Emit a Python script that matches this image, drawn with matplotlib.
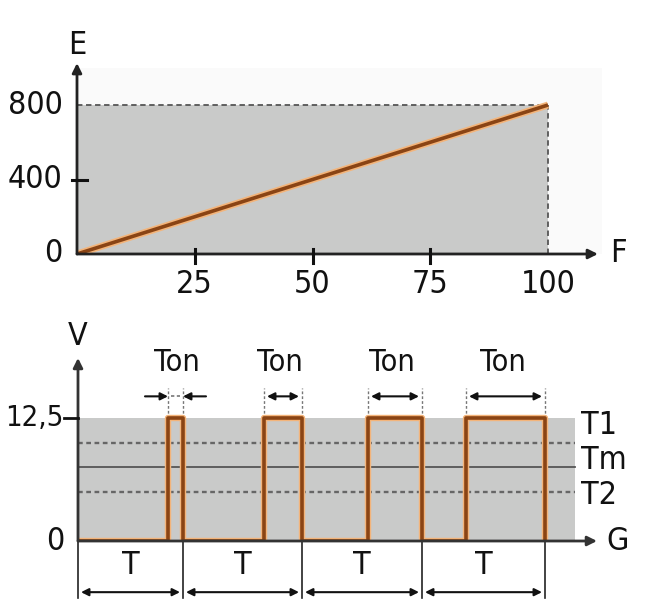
import matplotlib
matplotlib.use("Agg")
import matplotlib.pyplot as plt
from matplotlib.patches import Rectangle

# ---------------- data ----------------
# top chart: E as a linear function of F
F_values = [0, 100]
E_values = [0, 800]
top_xticks = [25, 50, 75, 100]
top_yticks = [0, 400, 800]
top_ytick_labels = ["0", "400", "800"]

# bottom chart: PWM pulses (G in arbitrary time units)
period_edges = [0, 105, 224, 344, 467]
ton_lengths = [15, 38, 54, 79]
V_high = 12.5
T1_level = 10.0
Tm_level = 7.5
T2_level = 5.0
bottom_ytick_labels = ["0", "12,5"]
level_labels = ["T1", "Tm", "T2"]

W, H = 659, 614
fig = plt.figure(figsize=(W / 100, H / 100), dpi=100)
plt.rcParams["font.family"] = ["DejaVu Sans"]
plt.rcParams["font.stretch"] = "condensed"
TXT = dict(color="#111111", fontstretch="condensed")


def px_axes(left, top, right, bottom):
    return fig.add_axes([left / W, 1 - bottom / H, (right - left) / W, (bottom - top) / H])


HALO = "#f3b47a"
CORE = "#8a4414"
GRAY = "#c9cac9"
AX = "#222222"

# ---------------- top chart ----------------
# 77 px -> F=0, 4.71 px per unit ; 254 px -> E=0, 0.1863 px per unit
ax1 = px_axes(77, 44, 640, 254)
ax1.set_xlim(0, (640 - 77) / 4.71)
ax1.set_ylim(0, 210 / 0.18625)
ax1.axis("off")
ax1.add_patch(Rectangle((0, 0), 111.5, 1000, facecolor="#fafafa", edgecolor="none", zorder=0))
ax1.add_patch(Rectangle((0, 0), F_values[1], E_values[1], facecolor=GRAY, edgecolor="none", zorder=1))
ax1.plot([0, F_values[1]], [E_values[1]] * 2, color="#555555", lw=1.3, ls=(0, (3, 2)), zorder=2)
ax1.plot([F_values[1]] * 2, [0, E_values[1]], color="#555555", lw=1.3, ls=(0, (3, 2)), zorder=2)
ax1.plot(F_values, E_values, color=HALO, lw=5, solid_capstyle="butt", zorder=3)
ax1.plot(F_values, E_values, color=CORE, lw=2.6, solid_capstyle="butt", zorder=4)
# axes with arrows
ax1.annotate("", xy=(110.6, 0), xytext=(0, 0),
             arrowprops=dict(arrowstyle="-|>", color=AX, lw=2, mutation_scale=14, shrinkA=0, shrinkB=0),
             zorder=5)
ax1.annotate("", xy=(0, 1025), xytext=(0, 0),
             arrowprops=dict(arrowstyle="-|>", color=AX, lw=2, mutation_scale=14, shrinkA=0, shrinkB=0),
             zorder=5)
for xt in top_xticks[:-1]:
    ax1.plot([xt, xt], [-48, 27], color="#111111", lw=2.2, clip_on=False, zorder=5)
for xt in top_xticks:
    ax1.text(xt, -165, str(xt), ha="center", va="center", fontsize=23, **TXT)
ax1.plot([-1.1, 2.1], [400, 400], color="#111111", lw=2.2, clip_on=False, zorder=5)
for yt, lab in zip(top_yticks, top_ytick_labels):
    ax1.text(-3.0, yt, lab, ha="right", va="center", fontsize=23, **TXT)
ax1.text(0, 1120, "E", ha="center", va="center", fontsize=23, clip_on=False, **TXT)
ax1.text(115, 0, "F", ha="center", va="center", fontsize=23, clip_on=False, **TXT)

# ---------------- bottom chart ----------------
# 78 px -> G=0, 1 px per unit ; 541 px -> V=0, 9.84 px per unit
ax2 = px_axes(78, 340, 640, 541)
ax2.set_xlim(0, 562)
ax2.set_ylim(0, 201 / 9.84)
ax2.axis("off")
ax2.add_patch(Rectangle((0, 0), 497, V_high, facecolor=GRAY, edgecolor="none", zorder=1))
ax2.plot([0, 497], [T1_level] * 2, color="#666666", lw=1.7, ls=(0, (2, 1.5)), zorder=2)
ax2.plot([0, 497], [T2_level] * 2, color="#666666", lw=1.7, ls=(0, (2, 1.5)), zorder=2)
ax2.plot([0, 497], [Tm_level] * 2, color="#555555", lw=1.3, zorder=2)

# pulse waveform
xs, ys = [0], [0]
for i, ton in enumerate(ton_lengths):
    end = period_edges[i + 1]
    rise = end - ton
    xs += [rise, rise, end, end]
    ys += [0, V_high, V_high, 0]
ax2.plot(xs, ys, color=HALO, lw=4.6, zorder=3)
ax2.plot(xs, ys, color=CORE, lw=2.6, zorder=4)

# axes arrows
ax2.annotate("", xy=(519, 0), xytext=(0, 0),
             arrowprops=dict(arrowstyle="-|>", color="#333333", lw=2, mutation_scale=14, shrinkA=0, shrinkB=0),
             zorder=5)
ax2.annotate("", xy=(0, 18.6), xytext=(0, 0),
             arrowprops=dict(arrowstyle="-|>", color="#333333", lw=2, mutation_scale=14, shrinkA=0, shrinkB=0),
             zorder=5)
ax2.plot([-14, 0], [V_high, V_high], color="#111111", lw=2, clip_on=False, zorder=5)
ax2.text(-14, V_high, bottom_ytick_labels[1], ha="right", va="center", fontsize=21, **TXT)
ax2.text(-14, 0, bottom_ytick_labels[0], ha="right", va="center", fontsize=23, **TXT)
ax2.text(0, 20.8, "V", ha="center", va="center", fontsize=23, clip_on=False, **TXT)
ax2.text(540, 0, "G", ha="center", va="center", fontsize=23, clip_on=False, **TXT)
for lab, lv in zip(level_labels, [11.7, 8.2, 4.6]):
    ax2.text(503, lv, lab, ha="left", va="center", fontsize=23, **TXT)

# Ton markers
ton_y = 14.7
for i, ton in enumerate(ton_lengths):
    end = period_edges[i + 1]
    rise = end - ton
    for xv in (rise, end):
        ax2.plot([xv, xv], [V_high, 15.5], color="#777777", lw=1, ls=(0, (2, 1.5)), zorder=2)
    if i == 0:
        ax2.annotate("", xy=(rise, ton_y), xytext=(rise - 23, ton_y),
                     arrowprops=dict(arrowstyle="-|>", color="#111111", lw=1.5, mutation_scale=11,
                                     shrinkA=0, shrinkB=0))
        ax2.annotate("", xy=(end, ton_y), xytext=(end + 23, ton_y),
                     arrowprops=dict(arrowstyle="-|>", color="#111111", lw=1.5, mutation_scale=11,
                                     shrinkA=0, shrinkB=0))
        ax2.plot([rise + 3, end - 3], [ton_y, ton_y], color="#777777", lw=1.2, ls=(0, (2, 1.5)))
        cx = rise + 9
    else:
        ax2.annotate("", xy=(end - 3, ton_y), xytext=(rise + 3, ton_y),
                     arrowprops=dict(arrowstyle="<|-|>", color="#111111", lw=1.5, mutation_scale=11,
                                     shrinkA=0, shrinkB=0))
        cx = (rise + end) / 2 - 3
    ax2.text(cx, 18.1, "Ton", ha="center", va="center", fontsize=22, **TXT)

# T markers
t_y = -5.2
for i in range(len(period_edges)):
    ax2.plot([period_edges[i]] * 2, [0, -5.8], color="#222222", lw=1.2, clip_on=False)
for i in range(len(ton_lengths)):
    a, b = period_edges[i], period_edges[i + 1]
    ax2.annotate("", xy=(b - 3, t_y), xytext=(a + 3, t_y), annotation_clip=False,
                 arrowprops=dict(arrowstyle="<|-|>", color="#111111", lw=1.5, mutation_scale=11,
                                 shrinkA=0, shrinkB=0))
    ax2.text((a + b) / 2, -2.45, "T", ha="center", va="center", fontsize=23, **TXT)

fig.savefig("out.png", dpi=100)
